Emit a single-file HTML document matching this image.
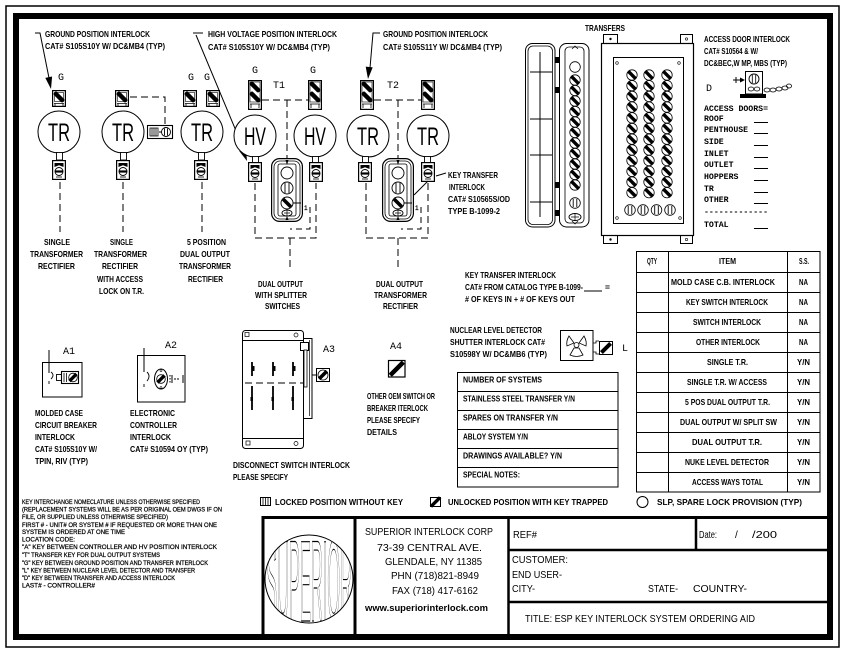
<!DOCTYPE html>
<html>
<head>
<meta charset="utf-8">
<style>
html,body{margin:0;padding:0;background:#fff;}
svg{display:block;}
.t{font-family:"Liberation Sans",sans-serif;font-size:8.5px;font-weight:bold;fill:#000;}
.s{font-family:"Liberation Sans",sans-serif;font-size:6.6px;fill:#000;stroke:#000;stroke-width:0.25px;}
.b{font-family:"Liberation Sans",sans-serif;font-size:10px;fill:#000;}
.m{font-family:"Liberation Mono",monospace;font-size:10px;fill:#000;}
.mb{font-family:"Liberation Mono",monospace;font-size:8.2px;font-weight:bold;fill:#000;}
.big{font-family:"Liberation Sans",sans-serif;font-size:25px;fill:#000;}
</style>
</head>
<body>
<svg width="846" height="654" viewBox="0 0 846 654" xmlns="http://www.w3.org/2000/svg">
<defs>
  <g id="key">
    <circle r="5.2" fill="#fff" stroke="#000" stroke-width="0.8"/>
    <rect x="-5" y="-1.7" width="10" height="3.4" fill="#000" transform="rotate(45)"/>
  </g>
  <g id="lk">
    <circle r="5.3" fill="#fff" stroke="#000" stroke-width="0.8"/>
    <path d="M-1.8 -4V4M1.8 -4V4" stroke="#000" stroke-width="0.9"/>
  </g>
  <g id="lockG">
    <rect x="0.6" y="0.6" width="12.8" height="15.8" fill="#fff" stroke="#000" stroke-width="1.2"/>
    <rect x="2.5" y="2.5" width="9" height="9" fill="none" stroke="#000" stroke-width="0.6"/>
    <rect x="0.5" y="4.8" width="13" height="4.4" rx="2" fill="#000" transform="rotate(45 7 7)"/>
    <path d="M2 13.5h10M3 13.5v2.5M11 13.5v2.5" stroke="#000" stroke-width="0.8" fill="none"/>
  </g>
  <g id="lockGG">
    <rect x="0.6" y="0.6" width="12.8" height="28.8" fill="#fff" stroke="#000" stroke-width="1.2"/>
    <rect x="2" y="2" width="10" height="20" fill="none" stroke="#000" stroke-width="0.6"/>
    <rect x="0.5" y="4.8" width="13" height="4.4" rx="2" fill="#000" transform="rotate(45 7 7)"/>
    <rect x="0.5" y="14.8" width="13" height="4.4" rx="2" fill="#000" transform="rotate(45 7 17)"/>
    <path d="M2 24h10M3 24v4M11 24v4" stroke="#000" stroke-width="0.8" fill="none"/>
  </g>
  <g id="lockB">
    <rect x="0.6" y="0.6" width="12.8" height="18.8" fill="#fff" stroke="#000" stroke-width="1.2"/>
    <path d="M2.5 3 L11.5 3 L11.5 7 L7 5.3 L2.5 7Z" fill="#000"/>
    <circle cx="7" cy="11.5" r="4" fill="#fff" stroke="#000" stroke-width="0.9"/>
    <rect x="3" y="10.4" width="8" height="2.2" fill="#000"/>
    <path d="M4 17h6" stroke="#000" stroke-width="0.8"/>
  </g>
  <g id="xfer">
    <rect x="0.6" y="0.6" width="30.8" height="62.8" rx="8" fill="#fff" stroke="#000" stroke-width="1.2"/>
    <rect x="3" y="3" width="26" height="58" rx="6" fill="none" stroke="#000" stroke-width="0.8"/>
    <rect x="7" y="6" width="18" height="52" rx="2" fill="none" stroke="#000" stroke-width="0.8"/>
    <circle cx="16" cy="15" r="6" fill="#fff" stroke="#000" stroke-width="0.9"/>
    <circle cx="16" cy="30" r="6" fill="#fff" stroke="#000" stroke-width="0.9"/>
    <path d="M14 25V35M18 25V35" stroke="#000" stroke-width="0.9"/>
    <circle cx="16" cy="45" r="6" fill="#fff" stroke="#000" stroke-width="0.9"/>
    <rect x="10.5" y="43.2" width="11" height="3.6" fill="#000" transform="rotate(45 16 45)"/>
    <ellipse cx="16" cy="55" rx="5" ry="3" fill="#fff" stroke="#000" stroke-width="0.9"/>
    <path d="M13 55h6M16 52.5v5" stroke="#000" stroke-width="0.7"/>
    <path d="M14.5 2L17.5 2L16 7Z" fill="#000"/>
    <path d="M14.5 62L17.5 62L16 58Z" fill="#000"/>
  </g>
  <clipPath id="logoclip"><circle cx="309" cy="579" r="44"/></clipPath>
</defs>

<!-- FRAME -->
<rect x="6" y="6" width="833" height="641" fill="none" stroke="#000" stroke-width="1.5"/>
<rect x="16" y="16" width="814" height="621" fill="none" stroke="#000" stroke-width="6"/>

<!-- ===== COLUMN 1 ===== -->
<text class="t" x="45" y="37" textLength="105" lengthAdjust="spacingAndGlyphs">GROUND POSITION INTERLOCK</text>
<text class="t" x="45" y="49" textLength="120" lengthAdjust="spacingAndGlyphs">CAT# S105S10Y W/ DC&amp;MB4 (TYP)</text>
<path d="M35 33H40L49 78" fill="none" stroke="#000" stroke-width="1"/>
<polygon points="51,89 52.1,76.5 45.3,77.9" fill="#000"/>
<text class="m" x="58" y="80">G</text>
<use href="#lockG" x="52" y="90"/>
<circle cx="59" cy="132" r="21" fill="#fff" stroke="#000" stroke-width="1"/>
<text class="big" x="48" y="141" textLength="22" lengthAdjust="spacingAndGlyphs">TR</text>
<rect x="56.5" y="152.5" width="6" height="7.5" fill="#fff" stroke="#000" stroke-width="0.9"/>
<use href="#lockB" x="52" y="160"/>
<line x1="60" y1="182" x2="60" y2="232" stroke="#000" stroke-width="1" stroke-dasharray="7,4"/>
<text class="t" x="44" y="245" textLength="26" lengthAdjust="spacingAndGlyphs">SINGLE</text>
<text class="t" x="30" y="257" textLength="53" lengthAdjust="spacingAndGlyphs">TRANSFORMER</text>
<text class="t" x="38" y="269" textLength="37" lengthAdjust="spacingAndGlyphs">RECTIFIER</text>

<!-- ===== COLUMN 2 ===== -->
<use href="#lockG" x="115" y="90"/>
<path d="M130 97H165V125" fill="none" stroke="#000" stroke-width="1" stroke-dasharray="7,4"/>
<circle cx="123" cy="132" r="21" fill="#fff" stroke="#000" stroke-width="1"/>
<text class="big" x="112" y="141" textLength="22" lengthAdjust="spacingAndGlyphs">TR</text>
<rect x="147.5" y="125.5" width="25" height="13" fill="#fff" stroke="#000" stroke-width="1.1"/>
<path d="M150 128h8v8h-8zM152 128v8M154 128v8M156 128v8" fill="none" stroke="#000" stroke-width="0.8"/>
<circle cx="166" cy="132" r="4.5" fill="#fff" stroke="#000" stroke-width="0.9"/>
<path d="M164.5 128.5v7M167.5 128.5v7M159 132h2.5" stroke="#000" stroke-width="0.9"/>
<rect x="120.5" y="152.5" width="6" height="7.5" fill="#fff" stroke="#000" stroke-width="0.9"/>
<use href="#lockB" x="116" y="160"/>
<line x1="123" y1="182" x2="123" y2="232" stroke="#000" stroke-width="1" stroke-dasharray="7,4"/>
<text class="t" x="110" y="245" textLength="23" lengthAdjust="spacingAndGlyphs">SINGLE</text>
<text class="t" x="94" y="257" textLength="53" lengthAdjust="spacingAndGlyphs">TRANSFORMER</text>
<text class="t" x="102" y="269" textLength="36" lengthAdjust="spacingAndGlyphs">RECTIFIER</text>
<text class="t" x="97" y="282" textLength="46" lengthAdjust="spacingAndGlyphs">WITH ACCESS</text>
<text class="t" x="99" y="294" textLength="45" lengthAdjust="spacingAndGlyphs">LOCK ON T.R.</text>

<!-- ===== COLUMN 3 ===== -->
<text class="m" x="188" y="80">G</text>
<text class="m" x="204" y="80">G</text>
<use href="#lockG" x="183" y="90"/>
<use href="#lockG" x="206" y="90"/>
<circle cx="202" cy="132" r="21" fill="#fff" stroke="#000" stroke-width="1"/>
<text class="big" x="191" y="141" textLength="22" lengthAdjust="spacingAndGlyphs">TR</text>
<rect x="198.5" y="152.5" width="6" height="7.5" fill="#fff" stroke="#000" stroke-width="0.9"/>
<use href="#lockB" x="194" y="160"/>
<line x1="202" y1="182" x2="202" y2="232" stroke="#000" stroke-width="1" stroke-dasharray="7,4"/>
<text class="t" x="187" y="245" textLength="39" lengthAdjust="spacingAndGlyphs">5 POSITION</text>
<text class="t" x="180" y="257" textLength="50" lengthAdjust="spacingAndGlyphs">DUAL OUTPUT</text>
<text class="t" x="179" y="269" textLength="52" lengthAdjust="spacingAndGlyphs">TRANSFORMER</text>
<text class="t" x="188" y="282" textLength="35" lengthAdjust="spacingAndGlyphs">RECTIFIER</text>

<!-- ===== HV GROUP (T1) ===== -->
<text class="t" x="208" y="37" textLength="129" lengthAdjust="spacingAndGlyphs">HIGH VOLTAGE POSITION INTERLOCK</text>
<text class="t" x="208" y="50" textLength="122" lengthAdjust="spacingAndGlyphs">CAT# S105S10Y W/ DC&amp;MB4 (TYP)</text>
<path d="M193 33H203M196 35L244 150" fill="none" stroke="#000" stroke-width="1"/>
<polygon points="247,161 245.9,148.5 239.3,151.1" fill="#000"/>
<text class="m" x="252" y="73">G</text>
<text class="m" x="310" y="73">G</text>
<text class="m" x="273" y="88">T1</text>
<path d="M262 100H308" fill="none" stroke="#000" stroke-width="1" stroke-dasharray="7,4"/>
<path d="M287 100V158" fill="none" stroke="#000" stroke-width="1" stroke-dasharray="7,4"/>
<use href="#lockGG" x="248" y="80"/>
<use href="#lockGG" x="308" y="80"/>
<circle cx="255" cy="136" r="21" fill="#fff" stroke="#000" stroke-width="1"/>
<text class="big" x="244" y="145" textLength="22" lengthAdjust="spacingAndGlyphs">HV</text>
<circle cx="315" cy="136" r="21" fill="#fff" stroke="#000" stroke-width="1"/>
<text class="big" x="304" y="145" textLength="22" lengthAdjust="spacingAndGlyphs">HV</text>
<rect x="252.5" y="156.5" width="6" height="6" fill="#fff" stroke="#000" stroke-width="0.9"/>
<rect x="312.5" y="156.5" width="6" height="6" fill="#fff" stroke="#000" stroke-width="0.9"/>
<use href="#lockB" x="248" y="162"/>
<use href="#lockB" x="309" y="162"/>
<use href="#xfer" x="271" y="158"/>
<path d="M255 183V238H316V183" fill="none" stroke="#000" stroke-width="1" stroke-dasharray="7,4"/>
<path d="M293 203H301" stroke="#000" stroke-width="1"/>
<path d="M310 207V229H290" fill="none" stroke="#000" stroke-width="1" stroke-dasharray="6,4"/>
<text class="s" x="304" y="210">1</text>
<line x1="290" y1="238" x2="290" y2="268" stroke="#000" stroke-width="1" stroke-dasharray="7,4"/>
<text class="t" x="258" y="287" textLength="45" lengthAdjust="spacingAndGlyphs">DUAL OUTPUT</text>
<text class="t" x="255" y="298" textLength="52" lengthAdjust="spacingAndGlyphs">WITH SPLITTER</text>
<text class="t" x="265" y="309" textLength="35" lengthAdjust="spacingAndGlyphs">SWITCHES</text>

<!-- ===== T2 GROUP ===== -->
<text class="t" x="383" y="37" textLength="105" lengthAdjust="spacingAndGlyphs">GROUND POSITION INTERLOCK</text>
<text class="t" x="383" y="50" textLength="119" lengthAdjust="spacingAndGlyphs">CAT# S105S11Y W/ DC&amp;MB4 (TYP)</text>
<path d="M380 33H373L370 68" fill="none" stroke="#000" stroke-width="1"/>
<polygon points="368,79 372.7,67.4 365.7,66.6" fill="#000"/>
<text class="m" x="387" y="88">T2</text>
<path d="M374 100H421" fill="none" stroke="#000" stroke-width="1" stroke-dasharray="7,4"/>
<path d="M398 100V158" fill="none" stroke="#000" stroke-width="1" stroke-dasharray="7,4"/>
<use href="#lockGG" x="360" y="80"/>
<use href="#lockGG" x="421" y="80"/>
<circle cx="368" cy="136" r="21" fill="#fff" stroke="#000" stroke-width="1"/>
<text class="big" x="357" y="145" textLength="22" lengthAdjust="spacingAndGlyphs">TR</text>
<circle cx="428" cy="136" r="21" fill="#fff" stroke="#000" stroke-width="1"/>
<text class="big" x="417" y="145" textLength="22" lengthAdjust="spacingAndGlyphs">TR</text>
<rect x="362.5" y="156.5" width="6" height="6" fill="#fff" stroke="#000" stroke-width="0.9"/>
<rect x="424.5" y="156.5" width="6" height="6" fill="#fff" stroke="#000" stroke-width="0.9"/>
<use href="#lockB" x="358" y="162"/>
<use href="#lockB" x="421" y="162"/>
<use href="#xfer" x="382" y="158"/>
<path d="M366 183V238H428V183" fill="none" stroke="#000" stroke-width="1" stroke-dasharray="7,4"/>
<path d="M404 203H412" stroke="#000" stroke-width="1"/>
<path d="M421 207V229H401" fill="none" stroke="#000" stroke-width="1" stroke-dasharray="6,4"/>
<text class="s" x="415" y="210">1</text>
<line x1="398" y1="238" x2="398" y2="268" stroke="#000" stroke-width="1" stroke-dasharray="7,4"/>
<text class="t" x="376" y="287" textLength="47" lengthAdjust="spacingAndGlyphs">DUAL OUTPUT</text>
<text class="t" x="374" y="298" textLength="53" lengthAdjust="spacingAndGlyphs">TRANSFORMER</text>
<text class="t" x="383" y="309" textLength="35" lengthAdjust="spacingAndGlyphs">RECTIFIER</text>
<path d="M436 176L446 173M428 181L414 195" fill="none" stroke="#000" stroke-width="1"/>
<text class="t" x="448" y="178" textLength="50" lengthAdjust="spacingAndGlyphs">KEY TRANSFER</text>
<text class="t" x="449" y="190" textLength="36" lengthAdjust="spacingAndGlyphs">INTERLOCK</text>
<text class="t" x="448" y="202" textLength="62" lengthAdjust="spacingAndGlyphs">CAT# S10565S/OD</text>
<text class="t" x="448" y="214" textLength="52" lengthAdjust="spacingAndGlyphs">TYPE B-1099-2</text>

<!-- ===== TRANSFERS ===== -->
<text class="t" x="585" y="31" textLength="40" lengthAdjust="spacingAndGlyphs">TRANSFERS</text>
<rect x="525.5" y="43.5" width="29.5" height="183.5" rx="7" fill="#fff" stroke="#000" stroke-width="1"/>
<rect x="528" y="46" width="24.5" height="178.5" rx="5" fill="none" stroke="#000" stroke-width="0.8"/>
<path d="M540 52V217M530 72H552M530 119H552M530 155H552M530 202H552" stroke="#000" stroke-width="1"/>
<path d="M555 57h4v6h-4zM555 87h4v6h-4zM555 182h4v6h-4zM555 210h4v6h-4z" fill="#000"/>
<rect x="559.5" y="43.5" width="29.5" height="183.5" rx="7" fill="#fff" stroke="#000" stroke-width="1"/>
<rect x="565" y="47" width="19" height="176" rx="4" fill="none" stroke="#000" stroke-width="0.8"/>
<path d="M572 49L575 46L578 49M572 221L575 224L578 221" fill="none" stroke="#000" stroke-width="0.7"/>
<circle cx="575" cy="67" r="5.3" fill="#fff" stroke="#000" stroke-width="0.8"/>
<use href="#key" x="575" y="80"/>
<use href="#key" x="575" y="90.5"/>
<use href="#key" x="575" y="101"/>
<use href="#key" x="575" y="111.5"/>
<use href="#key" x="575" y="122"/>
<use href="#key" x="575" y="132.5"/>
<use href="#key" x="575" y="143"/>
<use href="#key" x="575" y="153.5"/>
<use href="#key" x="575" y="164"/>
<use href="#key" x="575" y="174.5"/>
<use href="#key" x="575" y="185"/>
<use href="#lk" x="575" y="203"/>
<ellipse cx="575" cy="217" rx="6" ry="3.5" fill="#fff" stroke="#000" stroke-width="0.9"/>
<path d="M571 217h8M575 214v6" stroke="#000" stroke-width="0.7"/>

<!-- panel -->
<rect x="603.5" y="34.5" width="14" height="9" fill="#fff" stroke="#000" stroke-width="1"/>
<rect x="680.5" y="34.5" width="12" height="9" fill="#fff" stroke="#000" stroke-width="1"/>
<rect x="603.5" y="235.5" width="14" height="8" fill="#fff" stroke="#000" stroke-width="1"/>
<rect x="680.5" y="235.5" width="12" height="8" fill="#fff" stroke="#000" stroke-width="1"/>
<circle cx="610.5" cy="39" r="1.2" fill="#000"/><circle cx="686.5" cy="39" r="1.2" fill="none" stroke="#000" stroke-width="0.6"/>
<circle cx="610.5" cy="239.5" r="1.2" fill="#000"/><circle cx="686.5" cy="239.5" r="1.2" fill="none" stroke="#000" stroke-width="0.6"/>
<rect x="601.5" y="43.5" width="92" height="192" fill="#fff" stroke="#000" stroke-width="1.2"/>
<rect x="613.5" y="57.5" width="70" height="166" fill="none" stroke="#000" stroke-width="1"/>
<circle cx="617" cy="63" r="1.3" fill="none" stroke="#000" stroke-width="0.6"/>
<circle cx="679" cy="63" r="1.3" fill="none" stroke="#000" stroke-width="0.6"/>
<circle cx="617" cy="218" r="1.3" fill="none" stroke="#000" stroke-width="0.6"/>
<circle cx="680" cy="218" r="1.3" fill="none" stroke="#000" stroke-width="0.6"/>
<g>
<use href="#key" x="632" y="75"/><use href="#key" x="649" y="75"/><use href="#key" x="667" y="75"/>
<use href="#key" x="632" y="85.7"/><use href="#key" x="649" y="85.7"/><use href="#key" x="667" y="85.7"/>
<use href="#key" x="632" y="96.4"/><use href="#key" x="649" y="96.4"/><use href="#key" x="667" y="96.4"/>
<use href="#key" x="632" y="107.1"/><use href="#key" x="649" y="107.1"/><use href="#key" x="667" y="107.1"/>
<use href="#key" x="632" y="117.8"/><use href="#key" x="649" y="117.8"/><use href="#key" x="667" y="117.8"/>
<use href="#key" x="632" y="128.5"/><use href="#key" x="649" y="128.5"/><use href="#key" x="667" y="128.5"/>
<use href="#key" x="632" y="139.2"/><use href="#key" x="649" y="139.2"/><use href="#key" x="667" y="139.2"/>
<use href="#key" x="632" y="149.9"/><use href="#key" x="649" y="149.9"/><use href="#key" x="667" y="149.9"/>
<use href="#key" x="632" y="160.6"/><use href="#key" x="649" y="160.6"/><use href="#key" x="667" y="160.6"/>
<use href="#key" x="632" y="171.3"/><use href="#key" x="649" y="171.3"/><use href="#key" x="667" y="171.3"/>
<use href="#key" x="632" y="182"/><use href="#key" x="649" y="182"/><use href="#key" x="667" y="182"/>
<use href="#key" x="632" y="192.7"/><use href="#key" x="649" y="192.7"/><use href="#key" x="667" y="192.7"/>
<use href="#lk" x="630" y="210"/><use href="#lk" x="643" y="210"/><use href="#lk" x="656.5" y="210"/><use href="#lk" x="670" y="210"/>
</g>

<!-- ===== ACCESS DOOR ===== -->
<text class="t" x="704" y="42" textLength="86" lengthAdjust="spacingAndGlyphs">ACCESS DOOR INTERLOCK</text>
<text class="t" x="704" y="54" textLength="54" lengthAdjust="spacingAndGlyphs">CAT# S10564 &amp; W/</text>
<text class="t" x="704" y="66" textLength="83" lengthAdjust="spacingAndGlyphs">DC&amp;BEC,W MP, MBS (TYP)</text>
<text class="m" x="706" y="91">D</text>
<path d="M733 80H743M736 77V83" stroke="#000" stroke-width="1"/>
<polygon points="745,80 740,77.5 740,82.5" fill="#000"/>
<rect x="745.5" y="71.5" width="17" height="22.5" fill="#fff" stroke="#000" stroke-width="1"/>
<circle cx="754" cy="79" r="5" fill="#fff" stroke="#000" stroke-width="0.9"/>
<path d="M752.3 75v8M755.7 75v8" stroke="#000" stroke-width="0.8"/>
<ellipse cx="751" cy="89" rx="2.8" ry="2" fill="none" stroke="#000" stroke-width="0.8"/>
<ellipse cx="757" cy="89" rx="2.8" ry="2" fill="none" stroke="#000" stroke-width="0.8"/>
<rect x="740" y="94" width="26" height="4" fill="#000"/>
<g fill="none" stroke="#000" stroke-width="0.8">
<ellipse cx="767" cy="90" rx="3" ry="2"/><ellipse cx="773" cy="90" rx="3" ry="2"/><ellipse cx="779" cy="89" rx="3" ry="2"/><ellipse cx="785" cy="88" rx="3" ry="2"/><ellipse cx="789" cy="86" rx="2.5" ry="2"/>
</g>
<text class="mb" x="704" y="111" textLength="64" lengthAdjust="spacingAndGlyphs">ACCESS DOORS=</text>
<text class="mb" x="704" y="121">ROOF</text>
<text class="mb" x="704" y="132" textLength="44" lengthAdjust="spacingAndGlyphs">PENTHOUSE</text>
<text class="mb" x="704" y="144">SIDE</text>
<text class="mb" x="704" y="156">INLET</text>
<text class="mb" x="704" y="167">OUTLET</text>
<text class="mb" x="704" y="179">HOPPERS</text>
<text class="mb" x="704" y="191">TR</text>
<text class="mb" x="704" y="202">OTHER</text>
<text class="mb" x="704" y="214" textLength="64" lengthAdjust="spacingAndGlyphs">-------------</text>
<text class="mb" x="704" y="227">TOTAL</text>
<path d="M754 122.5h14M754 133.5h14M754 145.5h14M754 157.5h14M754 168.5h14M754 180.5h14M754 192.5h14M754 203.5h14M754 228.5h14" stroke="#000" stroke-width="1"/>

<!-- ===== RIGHT TABLE ===== -->
<rect x="636.5" y="251.5" width="183.5" height="240.5" fill="none" stroke="#000" stroke-width="1"/>
<path d="M668.5 251.5V492M787.5 251.5V492" stroke="#000" stroke-width="1"/>
<path d="M636.5 272.5H820M636.5 292.5H820M636.5 312.5H820M636.5 332.5H820M636.5 352.5H820M636.5 372.5H820M636.5 392.5H820M636.5 412.5H820M636.5 432.5H820M636.5 452.5H820M636.5 472.5H820" stroke="#000" stroke-width="1"/>
<text class="t" x="647" y="264" textLength="10" lengthAdjust="spacingAndGlyphs">QTY</text>
<text class="t" x="719" y="264" textLength="17" lengthAdjust="spacingAndGlyphs">ITEM</text>
<text class="t" x="799" y="264" textLength="10" lengthAdjust="spacingAndGlyphs">S.S.</text>
<text class="t" x="671" y="285" textLength="104" lengthAdjust="spacingAndGlyphs">MOLD CASE C.B. INTERLOCK</text>
<text class="t" x="686" y="305" textLength="82" lengthAdjust="spacingAndGlyphs">KEY SWITCH INTERLOCK</text>
<text class="t" x="693" y="325" textLength="68" lengthAdjust="spacingAndGlyphs">SWITCH INTERLOCK</text>
<text class="t" x="696" y="345" textLength="64" lengthAdjust="spacingAndGlyphs">OTHER INTERLOCK</text>
<text class="t" x="707" y="365" textLength="41" lengthAdjust="spacingAndGlyphs">SINGLE T.R.</text>
<text class="t" x="687" y="385" textLength="80" lengthAdjust="spacingAndGlyphs">SINGLE T.R. W/ ACCESS</text>
<text class="t" x="685" y="405" textLength="85" lengthAdjust="spacingAndGlyphs">5 POS DUAL OUTPUT T.R.</text>
<text class="t" x="680" y="425" textLength="97" lengthAdjust="spacingAndGlyphs">DUAL OUTPUT W/ SPLIT SW</text>
<text class="t" x="692" y="445" textLength="70" lengthAdjust="spacingAndGlyphs">DUAL OUTPUT T.R.</text>
<text class="t" x="685" y="465" textLength="84" lengthAdjust="spacingAndGlyphs">NUKE LEVEL DETECTOR</text>
<text class="t" x="692" y="485" textLength="71" lengthAdjust="spacingAndGlyphs">ACCESS WAYS TOTAL</text>
<text class="t" x="799" y="285" textLength="9" lengthAdjust="spacingAndGlyphs">NA</text>
<text class="t" x="799" y="305" textLength="9" lengthAdjust="spacingAndGlyphs">NA</text>
<text class="t" x="799" y="325" textLength="9" lengthAdjust="spacingAndGlyphs">NA</text>
<text class="t" x="799" y="345" textLength="9" lengthAdjust="spacingAndGlyphs">NA</text>
<text class="t" x="797" y="365" textLength="13" lengthAdjust="spacingAndGlyphs">Y/N</text>
<text class="t" x="797" y="385" textLength="13" lengthAdjust="spacingAndGlyphs">Y/N</text>
<text class="t" x="797" y="405" textLength="13" lengthAdjust="spacingAndGlyphs">Y/N</text>
<text class="t" x="797" y="425" textLength="13" lengthAdjust="spacingAndGlyphs">Y/N</text>
<text class="t" x="797" y="445" textLength="13" lengthAdjust="spacingAndGlyphs">Y/N</text>
<text class="t" x="797" y="465" textLength="13" lengthAdjust="spacingAndGlyphs">Y/N</text>
<text class="t" x="797" y="485" textLength="13" lengthAdjust="spacingAndGlyphs">Y/N</text>

<!-- ===== KEY TRANSFER / NUCLEAR ===== -->
<text class="t" x="465" y="278" textLength="91" lengthAdjust="spacingAndGlyphs">KEY TRANSFER INTERLOCK</text>
<text class="t" x="465" y="290" textLength="118" lengthAdjust="spacingAndGlyphs">CAT# FROM CATALOG TYPE B-1099-</text>
<line x1="584" y1="291" x2="602" y2="291" stroke="#000" stroke-width="1"/>
<text class="t" x="605" y="290">=</text>
<text class="t" x="465" y="302" textLength="110" lengthAdjust="spacingAndGlyphs"># OF KEYS IN + # OF KEYS OUT</text>
<text class="t" x="450" y="333" textLength="92" lengthAdjust="spacingAndGlyphs">NUCLEAR LEVEL DETECTOR</text>
<text class="t" x="450" y="345" textLength="95" lengthAdjust="spacingAndGlyphs">SHUTTER INTERLOCK CAT#</text>
<text class="t" x="450" y="357" textLength="97" lengthAdjust="spacingAndGlyphs">S10598Y W/ DC&amp;MB6 (TYP)</text>
<rect x="560.5" y="330.5" width="32.5" height="30" fill="#fff" stroke="#000" stroke-width="1"/>
<g fill="none" stroke="#000" stroke-width="0.8">
<circle cx="576.5" cy="345" r="2.5"/>
<path d="M574 343L569 336Q566 341 567 346Z"/>
<path d="M579 343L584 336Q587 341 586 346Z"/>
<path d="M574 348L570 355Q576.5 358 583 355L579 348Z"/>
<path d="M593 343h3v-2h3M593 352h3v2h3"/>
</g>
<rect x="599.5" y="341.5" width="13" height="13" fill="#fff" stroke="#000" stroke-width="1"/>
<rect x="599.5" y="346" width="13" height="4" fill="#000" transform="rotate(-45 606 348)"/>
<text class="m" x="622" y="351">L</text>

<!-- left info table -->
<rect x="457.5" y="372.5" width="160.5" height="114.5" fill="none" stroke="#000" stroke-width="1"/>
<path d="M457.5 391.5H618M457.5 410.5H618M457.5 429.5H618M457.5 448.5H618M457.5 467.5H618" stroke="#000" stroke-width="1"/>
<text class="t" x="463" y="382.5" textLength="79" lengthAdjust="spacingAndGlyphs">NUMBER OF SYSTEMS</text>
<text class="t" x="463" y="401.5" textLength="112" lengthAdjust="spacingAndGlyphs">STAINLESS STEEL TRANSFER Y/N</text>
<text class="t" x="463" y="420.5" textLength="95" lengthAdjust="spacingAndGlyphs">SPARES  ON TRANSFER Y/N</text>
<text class="t" x="463" y="439.5" textLength="65" lengthAdjust="spacingAndGlyphs">ABLOY SYSTEM Y/N</text>
<text class="t" x="463" y="458.5" textLength="99" lengthAdjust="spacingAndGlyphs">DRAWINGS AVAILABLE? Y/N</text>
<text class="t" x="463" y="477.5" textLength="57" lengthAdjust="spacingAndGlyphs">SPECIAL NOTES:</text>

<!-- ===== A1 ===== -->
<text class="m" x="63" y="354">A1</text>
<rect x="42.5" y="362.5" width="39.5" height="34.5" fill="none" stroke="#000" stroke-width="1"/>
<line x1="49" y1="350" x2="49" y2="373" stroke="#000" stroke-width="1"/>
<path d="M51 372q4 3 0 7M49 381v3" fill="none" stroke="#000" stroke-width="0.9"/>
<rect x="56.5" y="374.5" width="5" height="6" fill="#fff" stroke="#000" stroke-width="0.9"/>
<rect x="61.5" y="371.5" width="17" height="12" fill="#fff" stroke="#000" stroke-width="1.1"/>
<path d="M64 373v9M66.5 373v9" stroke="#000" stroke-width="0.8"/>
<circle cx="73" cy="377.5" r="4.3" fill="#fff" stroke="#000" stroke-width="0.8"/>
<rect x="68" y="375.8" width="10" height="3.4" fill="#000" transform="rotate(-45 73 377.5)"/>
<text class="t" x="35" y="416" textLength="48" lengthAdjust="spacingAndGlyphs">MOLDED CASE</text>
<text class="t" x="35" y="428" textLength="62" lengthAdjust="spacingAndGlyphs">CIRCUIT BREAKER</text>
<text class="t" x="35" y="440" textLength="40" lengthAdjust="spacingAndGlyphs">INTERLOCK</text>
<text class="t" x="35" y="452" textLength="62" lengthAdjust="spacingAndGlyphs">CAT# S105S10Y W/</text>
<text class="t" x="35" y="464" textLength="53" lengthAdjust="spacingAndGlyphs">TPIN, RIV (TYP)</text>

<!-- ===== A2 ===== -->
<text class="m" x="165" y="348">A2</text>
<rect x="137.5" y="355.5" width="47.5" height="46.5" fill="none" stroke="#000" stroke-width="1"/>
<line x1="144" y1="348" x2="144" y2="372" stroke="#000" stroke-width="1"/>
<path d="M147 372q4 4 0 9M144 384v3" fill="none" stroke="#000" stroke-width="0.9"/>
<ellipse cx="161" cy="379" rx="6.5" ry="10" fill="#fff" stroke="#000" stroke-width="1"/>
<circle cx="161" cy="379" r="4.3" fill="#fff" stroke="#000" stroke-width="0.8"/>
<rect x="156" y="377.3" width="10" height="3.4" fill="#000" transform="rotate(-45 161 379)"/>
<circle cx="161" cy="370.5" r="1" fill="none" stroke="#000" stroke-width="0.6"/>
<circle cx="161" cy="387.5" r="1" fill="none" stroke="#000" stroke-width="0.6"/>
<path d="M170 375v1.5M170 378v1.5M170 381v1.5M172 375v8M174 379h2M177 379h2M183 375v8M185 375v1.5M185 378v1.5M185 381v1.5" stroke="#000" stroke-width="1"/>
<text class="t" x="130" y="416" textLength="45" lengthAdjust="spacingAndGlyphs">ELECTRONIC</text>
<text class="t" x="130" y="428" textLength="47" lengthAdjust="spacingAndGlyphs">CONTROLLER</text>
<text class="t" x="130" y="440" textLength="41" lengthAdjust="spacingAndGlyphs">INTERLOCK</text>
<text class="t" x="130" y="452" textLength="78" lengthAdjust="spacingAndGlyphs">CAT# S10594 OY (TYP)</text>

<!-- ===== A3 ===== -->
<text class="m" x="323" y="352">A3</text>
<rect x="303.5" y="338.5" width="8.5" height="80" fill="#fff" stroke="#000" stroke-width="1"/>
<line x1="309.5" y1="340" x2="309.5" y2="416" stroke="#000" stroke-width="0.7"/>
<rect x="242.5" y="330.5" width="61" height="118" rx="3" fill="#fff" stroke="#000" stroke-width="1"/>
<path d="M242.5 340.5H303.5M242.5 438.5H303.5" stroke="#000" stroke-width="1"/>
<rect x="245" y="332.5" width="4" height="4" fill="none" stroke="#000" stroke-width="0.7"/>
<circle cx="296" cy="335" r="2" fill="none" stroke="#000" stroke-width="0.7"/>
<rect x="246" y="441" width="4" height="4" fill="none" stroke="#000" stroke-width="0.7"/>
<circle cx="296" cy="443.5" r="2" fill="none" stroke="#000" stroke-width="0.7"/>
<rect x="300.5" y="342.5" width="8" height="8" fill="#fff" stroke="#000" stroke-width="1"/>
<rect x="304" y="350" width="3" height="37" fill="#fff" stroke="#000" stroke-width="0.8"/>
<g stroke="#000" stroke-width="1.8">
<path d="M252 362V376M252 386V410M273 362V376M273 386V410M293 362V376M293 386V410"/>
</g>
<g fill="#000">
<rect x="252" y="366" width="2.5" height="5"/><rect x="273" y="366" width="2.5" height="5"/><rect x="293" y="366" width="2.5" height="5"/>
<rect x="250.5" y="397" width="2.5" height="4"/><rect x="271.5" y="397" width="2.5" height="4"/><rect x="291.5" y="397" width="2.5" height="4"/>
</g>
<line x1="245" y1="383" x2="303" y2="383" stroke="#000" stroke-width="1" stroke-dasharray="7,4"/>
<path d="M312 375H317" stroke="#000" stroke-width="1"/>
<rect x="316.5" y="368.5" width="13" height="13" fill="#fff" stroke="#000" stroke-width="1"/>
<circle cx="323" cy="375" r="5" fill="#fff" stroke="#000" stroke-width="0.8"/>
<rect x="317.5" y="373.2" width="11" height="3.6" fill="#000" transform="rotate(-45 323 375)"/>
<text class="t" x="233" y="468" textLength="117" lengthAdjust="spacingAndGlyphs">DISCONNECT SWITCH  INTERLOCK</text>
<text class="t" x="233" y="480" textLength="55" lengthAdjust="spacingAndGlyphs">PLEASE SPECIFY</text>

<!-- ===== A4 ===== -->
<text class="m" x="390" y="349">A4</text>
<rect x="388.5" y="360.5" width="16.5" height="16.5" fill="#fff" stroke="#000" stroke-width="1.2"/>
<rect x="387.5" y="366.5" width="18.5" height="4.5" rx="1" fill="#000" transform="rotate(-45 396.7 368.7)"/>
<text class="t" x="367" y="399" textLength="68" lengthAdjust="spacingAndGlyphs">OTHER OEM SWITCH OR</text>
<text class="t" x="367" y="411" textLength="61" lengthAdjust="spacingAndGlyphs">BREAKER ITERLOCK</text>
<text class="t" x="367" y="423" textLength="53" lengthAdjust="spacingAndGlyphs">PLEASE SPECIFY</text>
<text class="t" x="367" y="435" textLength="30" lengthAdjust="spacingAndGlyphs">DETAILS</text>

<!-- ===== NOTES ===== -->
<text class="s" x="22" y="504" textLength="178" lengthAdjust="spacingAndGlyphs">KEY INTERCHANGE NOMECLATURE UNLESS OTHERWISE SPECIFIED</text>
<text class="s" x="22" y="511.5" textLength="200" lengthAdjust="spacingAndGlyphs">(REPLACEMENT SYSTEMS WILL BE AS PER ORIGINAL OEM DWGS IF ON</text>
<text class="s" x="22" y="519" textLength="146" lengthAdjust="spacingAndGlyphs">FILE,  OR SUPPLIED UNLESS OTHERWISE SPECIFIED)</text>
<text class="s" x="22" y="527" textLength="195" lengthAdjust="spacingAndGlyphs">FIRST # - UNIT# OR SYSTEM # IF REQUESTED OR MORE THAN ONE</text>
<text class="s" x="22" y="534" textLength="103" lengthAdjust="spacingAndGlyphs">SYSTEM IS ORDERED AT ONE TIME</text>
<text class="s" x="22" y="541.5" textLength="53" lengthAdjust="spacingAndGlyphs">LOCATION CODE:</text>
<text class="s" x="22" y="549" textLength="195" lengthAdjust="spacingAndGlyphs">"A" KEY BETWEEN CONTROLLER AND HV POSITION INTERLOCK</text>
<text class="s" x="22" y="557" textLength="138" lengthAdjust="spacingAndGlyphs">"T" TRANSFER KEY FOR DUAL OUTPUT SYSTEMS</text>
<text class="s" x="22" y="565" textLength="186" lengthAdjust="spacingAndGlyphs">"G" KEY BETWEEN GROUND POSITION AND TRANSFER INTERLOCK</text>
<text class="s" x="22" y="572.5" textLength="173" lengthAdjust="spacingAndGlyphs">"L" KEY BETWEEN NUCLEAR LEVEL DETECTOR AND TRANSFER</text>
<text class="s" x="22" y="580" textLength="153" lengthAdjust="spacingAndGlyphs">"D" KEY BETWEEN TRANSFER AND ACCESS INTERLOCK</text>
<text class="s" x="22" y="587.5" textLength="73" lengthAdjust="spacingAndGlyphs">LAST# - CONTROLLER#</text>

<!-- ===== LEGEND ===== -->
<rect x="260.5" y="497.5" width="10" height="8" fill="#fff" stroke="#000" stroke-width="1"/>
<path d="M263 497.5v8M265.5 497.5v8M268 497.5v8" stroke="#000" stroke-width="0.8"/>
<text class="t" x="275" y="505" textLength="128" lengthAdjust="spacingAndGlyphs">LOCKED POSITION WITHOUT KEY</text>
<rect x="430.5" y="497.5" width="10" height="9" fill="#fff" stroke="#000" stroke-width="1"/>
<rect x="429" y="500.3" width="13" height="3.4" fill="#000" transform="rotate(-45 435.5 502)"/>
<text class="t" x="448" y="505" textLength="160" lengthAdjust="spacingAndGlyphs">UNLOCKED POSITION WITH KEY TRAPPED</text>
<circle cx="642.5" cy="502" r="5.5" fill="#fff" stroke="#000" stroke-width="1"/>
<text class="t" x="657" y="505" textLength="145" lengthAdjust="spacingAndGlyphs">SLP, SPARE LOCK PROVISION (TYP)</text>

<!-- ===== TITLE BLOCK ===== -->
<path d="M262 517.5H828" stroke="#000" stroke-width="3"/>
<path d="M263 516V634M355 516V634" stroke="#000" stroke-width="3"/>
<path d="M508.5 517V634M508 550H828M508 602H828M696 517V550" stroke="#000" stroke-width="2.5"/>
<circle cx="309" cy="579" r="44" fill="#fff" stroke="#000" stroke-width="1"/>
<g clip-path="url(#logoclip)">
<text x="0" y="0" transform="translate(266 621) scale(1 9.6)" style="font-family:'Liberation Sans',sans-serif;font-size:12px;" fill="none" stroke="#000" stroke-width="0.8" vector-effect="non-scaling-stroke" textLength="86" lengthAdjust="spacingAndGlyphs">SUPERIOR</text>
</g>
<text class="b" x="365" y="535" textLength="128" lengthAdjust="spacingAndGlyphs">SUPERIOR INTERLOCK CORP</text>
<text class="b" x="377" y="551" textLength="105" lengthAdjust="spacingAndGlyphs">73-39 CENTRAL AVE.</text>
<text class="b" x="385" y="565" textLength="97" lengthAdjust="spacingAndGlyphs">GLENDALE, NY 11385</text>
<text class="b" x="391" y="579" textLength="88" lengthAdjust="spacingAndGlyphs">PHN (718)821-8949</text>
<text class="b" x="392" y="594" textLength="86" lengthAdjust="spacingAndGlyphs">FAX (718) 417-6162</text>
<text class="b" x="365" y="611" textLength="123" lengthAdjust="spacingAndGlyphs" style="font-size:9px;font-weight:bold;">www.superiorinterlock.com</text>
<text class="b" x="513" y="538" textLength="24" lengthAdjust="spacingAndGlyphs">REF#</text>
<text class="b" x="699" y="538" textLength="18" lengthAdjust="spacingAndGlyphs">Date:</text>
<text class="b" x="735" y="538">/</text>
<text class="b" x="752" y="538" textLength="25" lengthAdjust="spacingAndGlyphs">/200</text>
<text class="b" x="512" y="563" textLength="56" lengthAdjust="spacingAndGlyphs">CUSTOMER:</text>
<text class="b" x="512" y="578" textLength="50" lengthAdjust="spacingAndGlyphs">END USER-</text>
<text class="b" x="512" y="592" textLength="23" lengthAdjust="spacingAndGlyphs">CITY-</text>
<text class="b" x="648" y="592" textLength="30" lengthAdjust="spacingAndGlyphs">STATE-</text>
<text class="b" x="693" y="592" textLength="54" lengthAdjust="spacingAndGlyphs">COUNTRY-</text>
<text class="b" x="525" y="622" textLength="230" lengthAdjust="spacingAndGlyphs">TITLE: ESP KEY INTERLOCK SYSTEM ORDERING AID</text>

</svg>
</body>
</html>
